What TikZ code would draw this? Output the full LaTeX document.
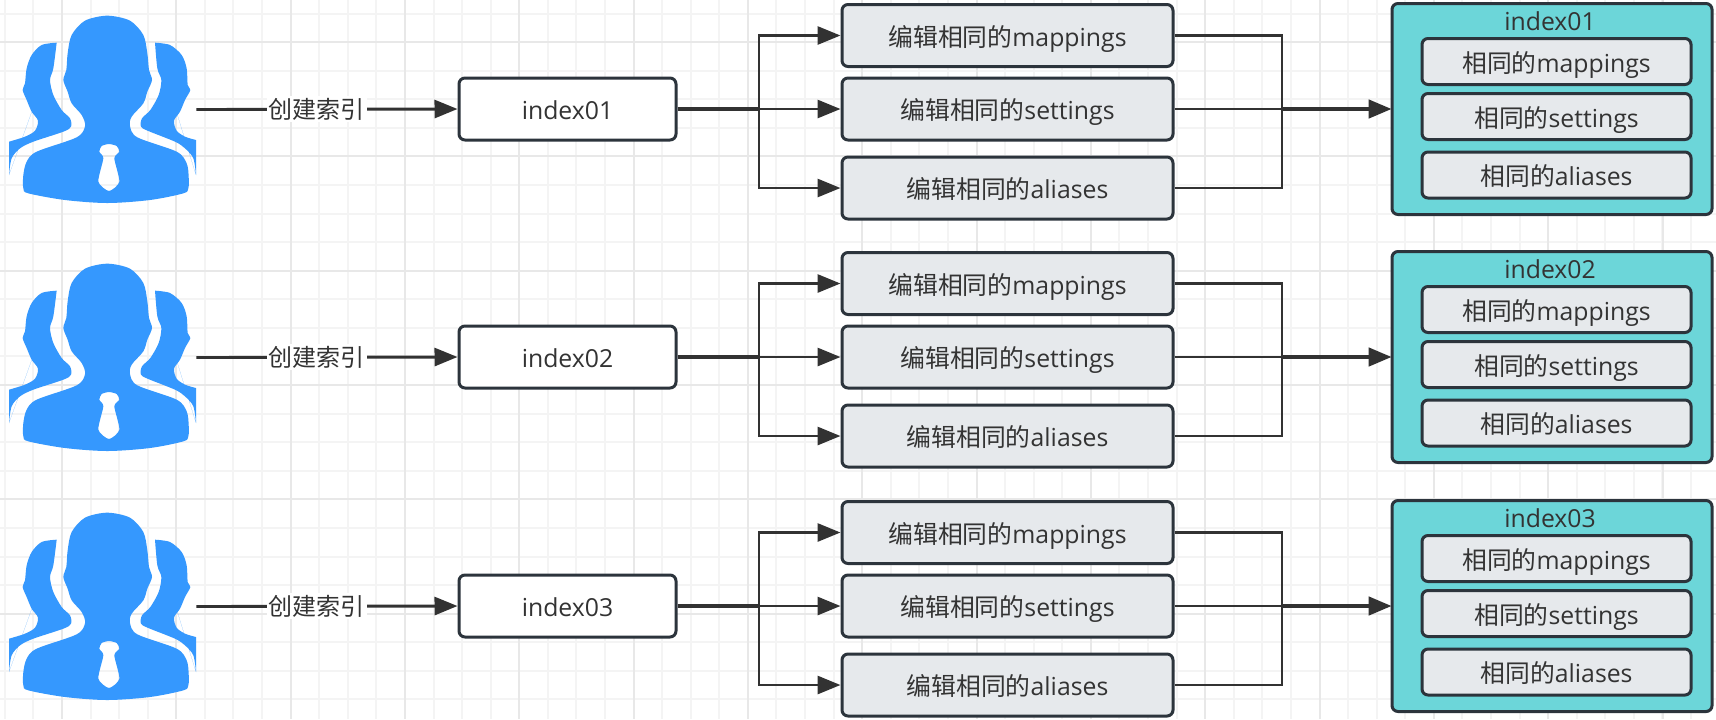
\documentclass[tikz,border=0pt]{standalone}
\usepackage{fontspec}
\setmainfont{Open Sans}
\newfontfamily\cjk{Noto Sans CJK SC}
\usetikzlibrary{arrows.meta}
\definecolor{gridmajor}{HTML}{E8E8E8}
\definecolor{gridminor}{HTML}{F4F4F4}
\definecolor{edgecol}{HTML}{2C343C}
\definecolor{linecol}{HTML}{323232}
\definecolor{boxfill}{HTML}{E6E9EC}
\definecolor{tealfill}{HTML}{6CD6D9}
\definecolor{iconblue}{HTML}{3598FE}
\definecolor{textcol}{HTML}{333333}
\tikzset{
  x=.5pt,y=-.5pt,
  basebox/.style={draw=edgecol,line width=1.5pt,rounded corners=3pt,text=textcol,inner sep=0pt,
    font=\fontsize{12.4pt}{14pt}\selectfont,text height=11pt,text depth=.5pt},
  whitebox/.style={basebox,fill=white,minimum width=108.5pt,minimum height=31pt},
  editbox/.style={basebox,fill=boxfill,minimum width=165.5pt,minimum height=31pt},
  groupbox/.style={basebox,fill=tealfill,minimum width=160pt,minimum height=105.5pt},
  innerbox/.style={basebox,fill=boxfill,minimum width=134.5pt,minimum height=23pt},
  titletext/.style={text=textcol,inner sep=0pt,font=\fontsize{12.4pt}{14pt}\selectfont},
  edgelabel/.style={text=textcol,fill=white,inner xsep=1pt,inner ysep=1pt,font=\fontsize{12pt}{14pt}\selectfont\cjk},
  conn/.style={draw=linecol,line width=1.45pt},
  headtip/.style={-{Triangle[length=11.5pt,width=9pt]}},
  connhead/.style={conn,headtip},
  trunk/.style={draw=linecol,line width=2.1pt},
  iconslot/.style={inner sep=0pt,minimum width=98pt,minimum height=94pt},
  minorgrid/.style={draw=gridminor,line width=1pt},
  majorgrid/.style={draw=gridmajor,line width=1pt},
}
\newcommand{\personicon}{%
  \fill[iconblue] plot[smooth,tension=.5] coordinates {(170,128) (125,135) (95,165) (80,205) (75,250) (68,270) (80,300) (95,335) (114,362) (105,392) (75,410) (27,425)} -- (27,525)
    plot[smooth,tension=.5] coordinates {(27,525) (35,475) (60,445) (100,425) (190,395) (213,380) (210,355) (185,330) (160,285) (150,240) (160,205) (170,128)} -- cycle;
  \fill[iconblue] plot[smooth,tension=.5] coordinates {(465,128) (510,135) (545,165) (560,205) (563,255) (571,270) (555,300) (540,335) (522,362) (530,392) (555,410) (588,420)} -- (588,525)
    plot[smooth,tension=.5] coordinates {(588,525) (580,475) (555,445) (525,425) (445,393) (423,380) (426,355) (451,330) (476,285) (484,240) (472,205) (465,128)} -- cycle;
  \fill[iconblue,even odd rule] plot[smooth cycle,tension=.5] coordinates {(322,47) (390,62) (430,105) (442,160) (447,210) (456,240) (442,275) (430,310) (395,350) (390,378) (412,412) (530,455) (560,490) (566,530) (565,565) (550,580) (450,600) (322,609) (195,600) (85,580) (70,565) (70,525) (80,485) (110,455) (230,412) (255,378) (245,345) (215,310) (203,275) (190,240) (199,210) (203,160) (215,105) (255,62)}
    plot[smooth cycle,tension=.4] coordinates {(327,432) (350,438) (358,455) (343,475) (358,545) (327,573) (295,545) (310,475) (298,455) (305,438)};
}
\begin{document}
\begin{tikzpicture}
\useasboundingbox (0,0) rectangle (1716,719);
\fill[white] (0,0) rectangle (1716,719);
% background grid
\foreach \k in {0,...,59}{
  \draw[minorgrid] ({4.8+28.58*\k},0) -- ({4.8+28.58*\k},719);
}
\foreach \k in {0,...,25}{
  \draw[minorgrid] (0,{13.5+28.58*\k}) -- (1716,{13.5+28.58*\k});
}
\foreach \k in {0,...,14}{
  \draw[majorgrid] ({62+114.32*\k},0) -- ({62+114.32*\k},719);
}
\foreach \k in {0,...,5}{
  \draw[majorgrid] (0,{42+114.32*\k}) -- (1716,{42+114.32*\k});
}
% three rows
\foreach \r/\off in {1/0,2/248,3/497}{
  \node[iconslot] (u\r) at (98,109.5+\off) {};
  \begin{scope}[shift={(0,\off)},x=.16667pt,y=-.16667pt]
    \personicon
  \end{scope}
  \node[whitebox] (i\r) at (567.5,109+\off) {index0\r};
  \node[editbox] (m\r) at (1007.5,35.5+\off) {{\cjk 编辑相同的}mappings};
  \node[editbox] (s\r) at (1007.5,109+\off) {{\cjk 编辑相同的}settings};
  \node[editbox] (a\r) at (1007.5,188+\off) {{\cjk 编辑相同的}aliases};
  \node[groupbox] (g\r) at (1552,109+\off) {};
  \node[titletext,anchor=center] (t\r) at (1550,21+\off) {index0\r};
  \node[innerbox] (gm\r) at (1556.5,61.5+\off) {{\cjk 相同的}mappings};
  \node[innerbox] (gs\r) at (1556.5,116.5+\off) {{\cjk 相同的}settings};
  \node[innerbox] (ga\r) at (1556.5,175+\off) {{\cjk 相同的}aliases};
  \coordinate (b\r) at (759,109+\off);
  \coordinate (c\r) at (1282,109+\off);
  \draw[connhead] (u\r.east) -- node[edgelabel,pos=.46] (l\r) {创建索引} (i\r.west);
  \draw[trunk] (i\r.east) -- (b\r);
  \draw[connhead] (b\r) -- (s\r.west);
  \draw[connhead] (b\r) |- (m\r.west);
  \draw[connhead] (b\r) |- (a\r.west);
  \draw[conn] (s\r.east) -- (c\r);
  \draw[conn] (m\r.east) -| (c\r);
  \draw[conn] (a\r.east) -| (c\r);
  \draw[trunk,headtip,shorten >=-.6pt] (c\r) -- (g\r.west);
}
\end{tikzpicture}
\end{document}
